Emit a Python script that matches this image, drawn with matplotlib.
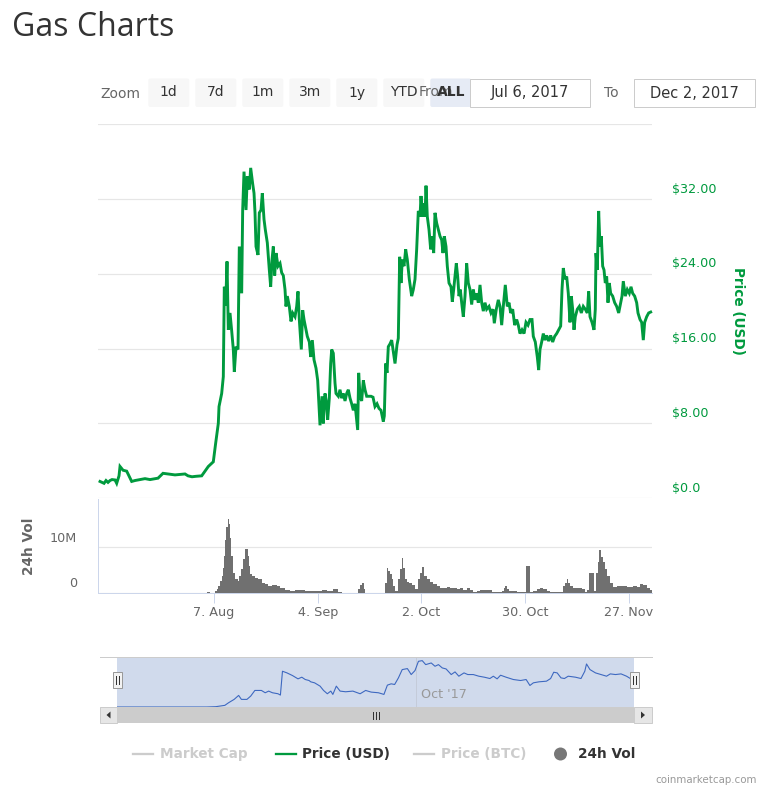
import numpy as np
import matplotlib
matplotlib.use('Agg')
import matplotlib.pyplot as plt
import matplotlib.dates as mdates
from matplotlib.patches import FancyBboxPatch, Rectangle, Circle, Polygon

plt.rcParams['font.family'] = ['DejaVu Sans']

# ---------------- data ----------------
START = np.datetime64('2017-07-06T00:00')
RANGE_DAYS = [0.54, 150.26]           # extremes of the data (days after START)

price_days = [
    1.22, 1.76, 2.30, 2.84, 3.38, 3.92, 4.46, 5.27, 5.72, 6.35, 6.62, 7.43, 8.42, 9.77, 10.67, 11.48, 12.56, 13.37,
    14.72, 16.07, 16.88, 18.23, 19.58, 21.47, 22.82, 24.17, 24.98, 26.06, 27.14, 28.67, 30.46, 31.81, 32.45, 33.16,
    33.35, 34.07, 34.51, 34.78, 35.15, 35.51, 35.86, 36.32,
    36.77, 37.21, 37.48, 37.94, 38.48, 38.83, 39.47, 39.74, 40.10, 40.64, 40.99, 41.53, 41.90, 42.44, 42.80, 43.07,
    43.34, 43.88, 44.23, 44.69, 45.04, 45.50, 45.85, 46.39, 46.93, 47.30, 47.66, 48.01, 48.38, 48.74, 49.28, 49.82,
    50.27, 50.71, 51.17, 51.44, 51.79, 52.33, 52.79, 53.24, 53.87, 54.32, 54.68, 55.03, 55.57, 55.94, 56.30, 56.65,
    57.19, 57.73, 58.10, 58.54, 59.00, 59.54, 59.99, 60.43, 60.62, 61.16, 61.51, 61.97, 62.42, 62.69, 63.13, 63.50,
    63.77, 64.21, 64.67, 64.94, 65.56, 66.02, 66.47, 66.91, 67.37, 67.82, 68.26, 68.72, 69.17, 69.61, 70.07, 70.52,
    70.79, 71.06, 71.42, 71.87, 72.31, 72.77, 73.22, 73.93,
    74.39, 74.93, 75.47, 76.01, 76.55, 77.09, 77.71, 77.98, 78.35, 78.71, 79.06, 79.52, 79.97, 80.33, 80.87, 81.41,
    81.76, 82.13, 82.49, 82.84, 83.30, 83.75, 84.19, 84.73, 85.37, 85.81, 86.27, 86.72, 87.16, 87.62, 87.89, 88.24,
    88.61, 88.97, 89.24, 89.59, 90.05, 90.50, 90.94, 91.31, 91.67, 92.12, 92.56, 93.02, 93.47, 93.83, 94.18, 94.64,
    94.99, 95.45, 95.99, 96.34, 96.71, 97.07, 97.42, 97.79, 98.15, 98.50, 98.87, 99.31, 99.77, 100.22, 100.66,
    101.12, 101.57, 102.01, 102.47, 102.92, 103.36, 103.82, 104.27, 104.71, 105.17, 105.62, 106.25, 106.79, 107.33,
    107.68, 108.22, 108.76, 109.22, 109.67, 110.11, 110.65,
    111.19, 111.65, 112.10, 112.64, 113.18, 113.72, 114.16, 114.62, 115.16, 115.70, 116.24, 116.78, 117.32, 117.86,
    118.21, 118.75, 119.29, 119.66, 120.02, 120.47, 120.91, 121.37, 121.82, 122.36, 122.90, 123.44, 123.98, 124.52,
    125.06, 125.60, 125.96, 126.31, 126.77, 127.22, 127.66, 128.12, 128.47, 128.84, 129.20, 129.55, 130.09, 130.63,
    131.17, 131.71, 132.25, 132.79, 133.16, 133.52, 134.06, 134.60, 134.95, 135.14, 135.49, 135.86, 136.22, 136.57,
    136.94, 137.30, 137.65, 138.02, 138.38, 138.73, 139.10, 139.64, 140.18, 140.72, 141.26, 141.80, 142.16, 142.51,
    143.05, 143.59, 144.13, 144.59, 145.04, 145.58, 146.12, 146.48, 147.02, 147.47, 147.91, 148.28, 148.82, 149.36,
    149.90]
price_usd = [
    1.8, 1.7, 1.6, 1.9, 1.7, 1.9, 2.0, 1.96, 1.6, 2.4, 3.4, 3.0, 2.9, 1.8, 1.9, 1.96, 2.05, 2.1,
    2.0, 2.1, 2.15, 2.67, 2.6, 2.5, 2.55, 2.6, 2.4, 2.3, 2.35, 2.4, 3.4, 3.9, 5.9, 8.0,
    9.8, 11.2, 13.0, 22.6, 20.6, 25.3, 18.0, 19.8,
    17.9, 15.9, 13.5, 16.2, 15.9, 26.9, 21.9, 30.8, 34.9, 30.8, 34.4, 33.0, 35.3, 33.6, 32.6, 30.5,
    26.9, 26.0, 30.5, 30.8, 32.6, 29.8, 28.7, 27.3, 24.4, 22.6, 25.5, 26.9, 23.8, 26.2, 24.8, 25.1,
    24.1, 23.8, 22.3, 20.5, 21.6, 20.5, 18.9, 19.8, 19.4, 20.5, 22.1, 19.1, 15.9, 20.1, 19.1, 18.4,
    17.3, 16.7, 15.1, 16.9, 14.8, 13.9, 12.6, 9.4, 7.8, 10.9, 8.0, 11.2, 10.1, 8.4, 10.7, 14.4,
    15.9, 15.5, 12.3, 11.2, 10.9, 11.6, 10.7, 11.2, 10.4, 11.2, 11.6, 10.7, 10.1, 9.4, 10.1, 8.4,
    7.3, 13.4, 10.9, 10.4, 12.6, 11.6, 10.9, 10.9,
    10.9, 10.8, 9.8, 10.1, 9.6, 9.4, 8.2, 8.8, 14.4, 13.4, 16.2, 16.5, 16.9, 15.9, 14.4, 16.4,
    17.1, 25.8, 23.0, 25.5, 24.8, 26.6, 25.5, 23.4, 21.6, 22.3, 23.4, 26.6, 30.7, 30.1, 32.3, 30.1,
    31.5, 30.1, 33.4, 30.1, 28.7, 26.6, 28.0, 26.2, 30.5, 29.4, 28.7, 28.0, 27.6, 26.2, 28.0, 26.9,
    24.8, 23.0, 22.6, 21.0, 22.3, 23.7, 25.1, 23.7, 21.6, 22.3, 20.9, 19.4, 21.6, 25.1, 23.0,
    22.3, 20.7, 22.3, 21.2, 21.9, 20.9, 22.8, 20.9, 20.0, 20.9, 20.2, 20.5, 19.8, 20.2,
    18.7, 20.2, 21.2, 20.5, 18.5, 20.5, 22.8,
    20.5, 20.9, 19.8, 20.2, 18.5, 19.1, 18.5, 17.6, 18.0, 17.6, 18.8, 18.5, 19.1, 19.1,
    17.3, 16.7, 15.1, 13.7, 15.9, 16.7, 17.6, 16.9, 17.4, 16.8, 17.4, 16.7, 17.3, 17.6,
    18.0, 18.4, 22.3, 24.6, 23.4, 23.7, 21.9, 18.8, 21.6, 20.2, 18.0, 19.4, 20.2, 20.5,
    19.8, 20.5, 20.2, 19.8, 22.1, 19.4, 18.8, 18.0, 20.2, 26.2, 24.4, 30.7, 26.9, 28.0,
    24.8, 24.4, 23.0, 23.7, 20.9, 23.0, 21.9, 21.6, 20.9, 20.5, 19.8, 20.9, 21.6, 23.2,
    21.6, 22.3, 21.9, 22.6, 21.9, 21.6, 20.9, 19.8, 19.1, 18.8, 16.9, 18.8, 19.4, 19.8,
    19.9]

vol_days = [
    0.54, 30.1, 30.8, 32.3, 32.7, 33.2, 33.6, 34.1, 34.5, 34.8, 35.1, 35.3, 35.7, 36.0, 36.2, 36.6, 37.0, 37.7,
    38.4, 38.8, 39.3, 39.9, 40.5, 41.1, 41.4, 41.8, 42.3, 43.1, 44.0, 44.9, 45.8, 46.7, 47.6, 48.9, 49.8, 51.2,
    52.5, 53.9, 55.2, 56.6, 57.9, 59.3, 61.1, 62.4, 64.2, 65.6, 66.5, 71.0, 71.4, 71.9, 72.4, 72.9, 78.2, 78.6,
    79.1, 79.5, 80.0, 80.4, 80.9, 81.8, 82.2, 82.7, 83.1, 83.6, 84.0, 84.6, 85.4, 86.3, 87.2, 87.6, 88.2, 88.7,
    89.4, 90.3, 91.2, 92.1, 93.0, 93.9, 94.8, 95.7, 96.6, 97.5, 98.4, 99.3, 100.2, 101.1, 102.0, 102.9, 103.8,
    105.2, 106.1, 107.0, 108.3, 109.7, 110.3, 110.7, 111.2, 111.7, 112.8, 113.7, 115.1, 116.2, 116.8, 117.3,
    118.2, 119.1, 120.0, 120.9, 121.8, 122.7, 124.1, 125.4, 126.1, 126.8, 127.2, 127.7, 128.1, 129.0, 129.9,
    131.3, 132.2, 132.8, 133.3, 134.1, 134.6, 135.1, 135.6, 136.0, 136.5, 136.9, 137.6, 138.2, 138.9, 139.8,
    140.7, 141.6, 142.5, 143.4, 144.3, 145.2, 146.1, 147.0, 147.8, 148.8, 149.7]
vol_millions = [
    0, 0.2, 0, 0.3, 0.8, 1.5, 2.5, 3.7, 5.5, 8.1, 11.5, 14.5, 16.3, 15.0, 12.0, 8.1, 4.4, 3.0,
    2.6, 3.7, 5.2, 7.4, 9.5, 8.1, 5.9, 4.1, 3.7, 3.3, 3.0, 2.2, 1.9, 1.5, 1.6, 1.5, 0.9, 0.5,
    0.4, 0.45, 0.6, 0.4, 0.3, 0.25, 0.6, 0.35, 0.7, 0.2, 0, 0.8, 1.6, 2.1, 0.7, 0, 2.0, 5.3,
    4.8, 4.1, 3.0, 1.5, 0.4, 3.0, 5.2, 7.6, 5.5, 3.0, 2.3, 2.1, 1.6, 0.7, 3.0, 4.4, 5.6, 3.7,
    3.0, 2.4, 1.9, 1.5, 1.1, 0.9, 1.3, 1.0, 1.1, 0.7, 1.0, 0.6, 1.0, 0.5, 0.1, 0.4, 0.5,
    0.6, 0.5, 0.2, 0.2, 0.4, 1.0, 1.5, 0.8, 0.3, 0.4, 0.2, 0.15, 5.8, 5.8, 0.2,
    0.3, 0.7, 0.9, 0.7, 0.4, 0.1, 0.1, 0.1, 1.5, 2.1, 3.0, 2.1, 1.5, 1.1, 0.9,
    0.7, 0.2, 0.6, 4.2, 4.2, 0.4, 4.4, 6.7, 9.3, 7.8, 6.7, 5.2, 3.7, 2.2, 1.3,
    1.5, 1.4, 1.5, 1.2, 1.3, 1.5, 1.3, 1.9, 1.7, 1.1, 0.6]

nav_days = [
    0.54, 26.5, 29.1, 31.7, 32.8, 34.4, 35.7, 36.5, 38.1, 39.2, 40.4, 42.3, 43.4, 44.4, 45.5, 47.1, 47.8, 48.4,
    49.7, 51.3, 52.9, 54.0, 55.0, 56.1, 56.6, 57.7, 59.3, 60.3, 61.4, 62.4, 63.0, 64.0, 65.1, 66.7, 68.8, 70.9,
    72.5, 74.1, 76.2, 77.8, 78.8, 79.9, 80.9, 82.0, 83.1, 84.6, 85.7, 86.8, 87.8, 88.9, 89.9, 91.5, 92.6, 93.6,
    94.7, 95.8, 97.3, 98.4, 99.5, 101.0, 102.1, 103.7, 105.3, 106.9, 108.5, 109.5, 110.6, 111.6, 113.2, 115.3,
    117.4, 119.0, 120.1, 121.1, 122.7, 124.9, 126.1, 127.0, 128.0, 129.1, 130.1, 131.2, 133.3, 134.9, 136.0,
    136.5, 137.5, 139.1, 140.7, 142.3, 143.4, 144.9, 146.5, 148.1, 149.2, 150.26]
nav_values = [
    0, 0, 1, 5, 13, 23, 35, 23, 23, 33, 50, 50, 43, 48, 43, 40, 36, 108,
    103, 95, 85, 90, 83, 80, 76, 73, 63, 50, 40, 48, 38, 63, 48, 46, 48, 40,
    50, 45, 43, 38, 66, 70, 68, 88, 113, 116, 98, 110, 138, 140, 128, 133, 123, 128,
    118, 115, 98, 106, 93, 103, 98, 98, 93, 90, 86, 93, 85, 96, 90, 83,
    80, 83, 65, 73, 76, 78, 86, 105, 103, 88, 86, 93, 90, 86, 108,
    130, 113, 103, 98, 93, 100, 98, 100, 93, 86, 78]

x_tick_dates = ['2017-08-07', '2017-09-04', '2017-10-02', '2017-10-30', '2017-11-27']
price_ticks = [0, 8, 16, 24, 32, 40]
price_tick_labels = ['$0.0', '$8.00', '$16.00', '$24.00', '$32.00', '']
vol_ticks = [0, 10e6]
vol_tick_labels = ['0', '10M']
nav_tick_date = '2017-10-01'
nav_tick_label = "Oct '17"
zoom_buttons = ['1d', '7d', '1m', '3m', '1y', 'YTD', 'ALL']
date_from = 'Jul 6, 2017'
date_to = 'Dec 2, 2017'
legend_labels = ['Market Cap', 'Price (USD)', 'Price (BTC)', '24h Vol']
legend_visible = [False, True, False, True]

# ---------------- helpers ----------------
W, H = 768, 794
GREEN = '#009a3e'
GRID = '#e6e6e6'
AXIS = '#ccd6eb'
PX = 0.72  # points per pixel at dpi 100

def rect(x0, y0, x1, y1):
    return [x0 / W, 1 - y1 / H, (x1 - x0) / W, (y1 - y0) / H]

d0 = mdates.date2num(START)
def to_num(days):
    return d0 + np.asarray(days, dtype=float)

xlim = to_num(RANGE_DAYS)

fig = plt.figure(figsize=(W / 100, H / 100), dpi=100)
fig.patch.set_facecolor('white')

# ---------------- price pane ----------------
axp = fig.add_axes(rect(97.5, 123.9, 652, 498.3))
axp.set_xlim(*xlim)
axp.set_ylim(price_ticks[0], price_ticks[-1])
for s in axp.spines.values():
    s.set_visible(False)
axp.set_yticks(price_ticks)
axp.set_xticks([])
axp.tick_params(axis='y', length=0, labelleft=False, labelright=False)
axp.grid(axis='y', color=GRID, lw=1.2 * PX)
axp.set_axisbelow(True)
axp.plot(to_num(price_days), price_usd, color=GREEN, lw=2.9 * PX, solid_joinstyle='miter', clip_on=False, zorder=3)
for v, lab in zip(price_ticks, price_tick_labels):
    if lab:
        axp.annotate(lab, xy=(1, v), xycoords=('axes fraction', 'data'), xytext=(20 * PX, 3.2 * PX),
                     textcoords='offset points', ha='left', va='bottom', color=GREEN, fontsize=9.2)
fig.text(738 / W, 1 - 311 / H, 'Price (USD)', rotation=270, color=GREEN, fontsize=9.8,
         fontweight='bold', ha='center', va='center')

# ---------------- volume pane ----------------
axv = fig.add_axes(rect(97.5, 499, 652, 592.5))
axv.set_xlim(*xlim)
axv.set_ylim(0, 20.6e6)
for k in ['top', 'right']:
    axv.spines[k].set_visible(False)
axv.spines['left'].set_color(AXIS)
axv.spines['bottom'].set_color(AXIS)
axv.spines['left'].set_linewidth(PX)
axv.spines['bottom'].set_linewidth(PX)
vx = to_num(vol_days)
vw = np.diff(np.append(vx, xlim[1]))
axv.bar(vx, np.asarray(vol_millions) * 1e6, width=vw, align='edge', color='#707070', lw=0, zorder=2)
axv.set_yticks(vol_ticks)
axv.tick_params(axis='y', length=0, labelleft=False)
axv.grid(axis='y', color=GRID, lw=1.2 * PX)
axv.set_axisbelow(True)
tick_nums = [mdates.date2num(np.datetime64(d)) for d in x_tick_dates]
axv.set_xticks(tick_nums)
axv.set_xticklabels([f"{mdates.num2date(t).day}. {mdates.num2date(t):%b}" for t in tick_nums])
axv.tick_params(axis='x', length=10 * PX, width=PX, color=AXIS, labelcolor='#666666',
                labelsize=9.2, pad=2.5)
for v, lab in zip(vol_ticks, vol_tick_labels):
    axv.annotate(lab, xy=(0, v), xycoords=('axes fraction', 'data'), xytext=(-20.5 * PX, 2.5 * PX),
                 textcoords='offset points', ha='right', va='bottom', color='#666666', fontsize=9.2)
fig.text(29 / W, 1 - 546 / H, '24h Vol', rotation=90, color='#666666', fontsize=9.8,
         fontweight='bold', ha='center', va='center')

# ---------------- navigator ----------------
axn = fig.add_axes(rect(117.3, 657, 634, 707))
axn.set_xlim(*xlim)
axn.set_ylim(0, 151)
axn.axis('off')
nav_num = mdates.date2num(np.datetime64(nav_tick_date))
axn.axvline(nav_num, color='#c4cbd9', lw=PX, zorder=1)
axn.axvspan(xlim[0], xlim[1], color=(102 / 255, 133 / 255, 194 / 255), alpha=0.3, lw=0, zorder=0)
axn.plot(to_num(nav_days), nav_values, color='#3d68c0', lw=1.1 * PX, zorder=3)
axn.annotate(nav_tick_label, xy=(nav_num, 0), xycoords=('data', 'axes fraction'), xytext=(5 * PX, 12 * PX),
             textcoords='offset points', ha='left', va='center', color='#999999', fontsize=9.2)

# ---------------- overlay (pixel coordinates) ----------------
ov = fig.add_axes([0, 0, 1, 1])
ov.set_xlim(0, W)
ov.set_ylim(H, 0)
ov.axis('off')

# title
ov.text(12, 28, 'Gas Charts', fontsize=23, family=['Open Sans', 'DejaVu Sans'], color='#333333',
        ha='left', va='center')

# range selector
ov.text(100, 93.5, 'Zoom', fontsize=10, color='#666666', ha='left', va='center')
for i, lab in enumerate(zoom_buttons):
    x0 = 148.3 + i * 47.0
    sel = (lab == 'ALL')
    ov.add_patch(FancyBboxPatch((x0, 78.5), 41, 28.5, boxstyle='round,pad=0,rounding_size=2',
                                fc='#e6ebf5' if sel else '#f7f7f7', ec='none', zorder=1))
    ov.text(x0 + 20.5, 92.5, lab, fontsize=10, color='#333333', ha='center', va='center',
            fontweight='bold' if sel else 'normal', zorder=3)
ov.text(419, 92.5, 'From', fontsize=10, color='#666666', ha='left', va='center', zorder=2)
for (bx0, bx1), txt in [((470, 590), date_from), ((634, 755), date_to)]:
    ov.add_patch(Rectangle((bx0, 79), bx1 - bx0, 28, fc='white', ec='#cccccc', lw=PX, zorder=4))
    ov.text((bx0 + bx1) / 2, 93, txt, fontsize=10.5, color='#333333', ha='center', va='center', zorder=5)
ov.text(604, 93, 'To', fontsize=10, color='#666666', ha='left', va='center')

# navigator outline, handles and scrollbar
ov.plot([100, 652], [656.5, 656.5], color='#cccccc', lw=PX)
for hx in [117.3, 634]:
    ov.add_patch(Rectangle((hx - 4.5, 672), 9, 16, fc='#f2f2f2', ec='#999999', lw=PX, zorder=5))
    ov.plot([hx - 1.5, hx - 1.5], [676, 684], color='#333333', lw=PX, zorder=6)
    ov.plot([hx + 1.5, hx + 1.5], [676, 684], color='#333333', lw=PX, zorder=6)
ov.add_patch(Rectangle((100, 707), 552, 16, fc='#f2f2f2', ec='none'))
ov.add_patch(Rectangle((117.3, 707), 634 - 117.3, 16, fc='#cccccc', ec='none'))
ov.add_patch(Rectangle((100, 707), 17.3, 16, fc='#e6e6e6', ec='#cccccc', lw=PX))
ov.add_patch(Rectangle((634, 707), 18, 16, fc='#e6e6e6', ec='#cccccc', lw=PX))
ov.add_patch(Polygon([[106.5, 715], [110.5, 711.5], [110.5, 718.5]], closed=True, fc='#333333', ec='none'))
ov.add_patch(Polygon([[645, 715], [641, 711.5], [641, 718.5]], closed=True, fc='#333333', ec='none'))
cx = (117.3 + 634) / 2
for dx in (-3, 0, 3):
    ov.plot([cx + dx, cx + dx], [711.5, 718.5], color='#333333', lw=PX)

# legend
leg_x = [133.4, 275.5, 413.8, 553.5]
for i, (lab, vis) in enumerate(zip(legend_labels, legend_visible)):
    x = leg_x[i]
    col = '#333333' if vis else '#cccccc'
    if lab == '24h Vol':
        ov.add_patch(Circle((x + 7, 754), 6.5, fc='#777777' if vis else '#cccccc', ec='none'))
    else:
        lc = GREEN if vis else '#cccccc'
        ov.plot([x, x + 20], [754, 754], color=lc, lw=2.3 * PX)
    ov.text(x + (24.5 if lab == '24h Vol' else 27), 754, lab, fontsize=9.8, fontweight='bold', color=col,
            ha='left', va='center')

ov.text(757, 780, 'coinmarketcap.com', fontsize=7.4, color='#999999', ha='right', va='center')

fig.savefig('out.png', dpi=100, facecolor='white')
